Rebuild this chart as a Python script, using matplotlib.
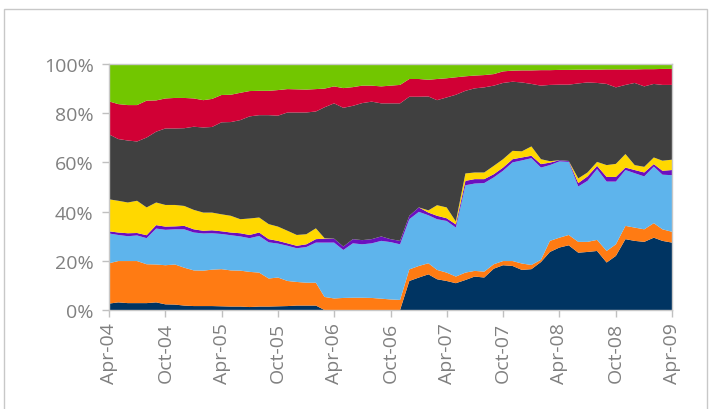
import numpy as np
import pandas as pd
import matplotlib
matplotlib.use('Agg')
import matplotlib.pyplot as plt
import matplotlib.dates as mdates
from matplotlib.patches import Rectangle

# monthly shares (%), Apr-04 .. Apr-09, bottom layer first
months = pd.date_range('2004-04-01', periods=61, freq='MS')

navy = [2.6, 3.1, 2.8, 2.8, 2.8, 3.1, 2.3, 2.2, 1.8, 1.6, 1.6, 1.6, 1.5, 1.4, 1.4, 1.2,
        1.4, 1.4, 1.5, 1.6, 1.8, 1.8, 1.8, 0, 0, 0, 0, 0, 0, 0, 0, 0,
        11.8, 13.2, 14.5, 12.5, 11.8, 10.9, 12.2, 13.6, 13.2, 16.8, 18.2, 17.9, 16.3, 16.6,
        19.5, 23.6, 25.4, 26.3, 23.3, 23.6, 24.0, 19.3, 22.0, 28.8, 28.1, 27.7, 29.4, 28.1, 27.4]
orange = [16.4, 16.8, 17.1, 17.1, 15.8, 15.4, 15.9, 16.3, 15.4, 14.5, 14.4, 14.8, 15.1, 14.7, 14.6, 14.3,
          13.8, 11.4, 11.7, 10.2, 9.6, 9.3, 9.3, 5.3, 4.7, 4.9, 5.0, 5.0, 4.9, 4.6, 4.3, 4.1,
          4.7, 4.7, 4.5, 3.8, 3.4, 2.7, 3.0, 2.3, 2.4, 1.8, 1.7, 2.0, 2.6, 1.7,
          0.9, 4.5, 4.0, 4.2, 4.4, 4.1, 4.5, 4.7, 4.7, 5.4, 5.4, 5.1, 5.9, 4.7, 4.4]
light_blue = [12.1, 10.6, 10.1, 10.4, 10.6, 14.6, 14.4, 14.3, 15.6, 15.4, 15.1, 14.8, 14.3, 14.3, 13.9, 13.7,
              14.9, 14.7, 13.8, 14.3, 13.7, 14.5, 16.3, 22.1, 22.7, 19.5, 22.1, 21.7, 22.2, 23.5, 23.3, 22.6,
              20.4, 22.0, 19.5, 20.6, 21.0, 19.9, 35.5, 35.5, 36.0, 35.3, 36.7, 40.1, 41.9, 43.4,
              37.5, 30.8, 31.0, 29.7, 22.5, 24.8, 28.8, 28.2, 25.5, 22.7, 22.1, 21.5, 23.0, 22.2, 23.0]
purple = [0.9, 1.0, 1.2, 1.0, 1.2, 1.4, 1.3, 1.2, 1.4, 1.3, 1.1, 1.2, 1.1, 1.1, 1.3, 1.3,
          1.4, 1.3, 1.1, 1.0, 1.0, 1.1, 1.4, 1.6, 1.6, 1.4, 1.7, 1.7, 1.7, 1.8, 1.2, 1.4,
          1.4, 1.8, 1.1, 1.4, 1.1, 1.3, 1.8, 1.8, 1.6, 1.3, 1.3, 1.3, 1.2, 1.0,
          1.4, 1.0, 0.5, 0.4, 1.4, 1.8, 1.3, 1.9, 1.9, 1.0, 1.3, 1.6, 1.0, 1.6, 2.1]
yellow = [13.0, 12.9, 12.5, 13.1, 11.3, 9.2, 8.8, 8.7, 8.1, 7.9, 7.4, 7.2, 6.9, 6.8, 5.7, 6.7,
          6.1, 6.1, 5.8, 5.1, 4.4, 4.1, 4.4, 0.2, 0, 0, 0, 0, 0, 0, 0, 0,
          0, 0, 0.9, 4.3, 4.4, 1.2, 3.0, 2.7, 2.7, 3.4, 3.4, 3.4, 2.5, 3.8,
          2.0, 0.6, 0, 0, 1.9, 1.6, 1.6, 4.8, 5.3, 5.5, 2.0, 2.3, 2.7, 4.1, 4.2]
dark_gray = [26.4, 25.1, 25.2, 24.1, 28.4, 28.8, 31.1, 31.1, 31.6, 33.8, 34.6, 34.8, 37.4, 38.1, 40.3, 41.5,
             41.6, 44.3, 45.1, 48.1, 49.8, 49.5, 47.5, 53.2, 55.0, 56.4, 54.2, 55.7, 55.9, 54.1, 55.2, 55.9,
             48.4, 45.0, 46.3, 42.7, 44.7, 51.5, 33.6, 34.2, 34.6, 32.6, 31.0, 28.1, 28.0, 25.4,
             29.9, 31.0, 30.7, 31.0, 38.6, 36.6, 32.1, 33.0, 31.1, 28.1, 33.4, 32.7, 29.9, 30.8, 30.4]
red = [13.4, 14.2, 14.4, 14.8, 15.0, 12.7, 12.2, 12.4, 12.3, 11.5, 11.1, 11.4, 11.1, 11.1, 11.1, 10.3,
       9.9, 9.9, 10.4, 9.5, 9.4, 9.3, 9.1, 7.6, 6.9, 8.0, 7.6, 7.1, 6.5, 6.9, 7.2, 7.5,
       7.2, 7.2, 6.8, 8.6, 7.8, 7.1, 5.9, 5.2, 5.0, 4.7, 4.7, 4.5, 4.9, 5.5,
       6.3, 6.0, 6.0, 6.0, 5.6, 5.2, 5.4, 5.9, 7.3, 6.3, 5.5, 7.0, 6.0, 6.5, 6.5]
green = [15.2, 16.3, 16.7, 16.7, 14.9, 14.8, 14.0, 13.8, 13.8, 14.0, 14.7, 14.2, 12.6, 12.5, 11.7, 11.0,
         10.9, 10.9, 10.6, 10.2, 10.3, 10.4, 10.2, 10.0, 9.1, 9.8, 9.4, 8.8, 8.8, 9.1, 8.8, 8.5,
         6.1, 6.1, 6.4, 6.1, 5.8, 5.4, 5.0, 4.7, 4.5, 4.1, 3.0, 2.7, 2.6, 2.6,
         2.5, 2.5, 2.4, 2.4, 2.3, 2.3, 2.3, 2.2, 2.2, 2.2, 2.2, 2.1, 2.1, 2.0, 2.0]

colors = ['#003462', '#FF7B13', '#5EB4EC', '#6B0FBF', '#FFD800', '#404040', '#D10035', '#72C600']

layers = np.array([navy, orange, light_blue, purple, yellow, dark_gray, red, green], dtype=float)
layers = layers / layers.sum(axis=0)  # 100% stacked

fig = plt.figure(figsize=(7.12, 4.10), dpi=100)
# light frame round the chart area
fig.patches.append(Rectangle((4/712, -0.01), 703/712, 400/410 + 0.01, transform=fig.transFigure,
                             fill=False, edgecolor='#C8C8C8', linewidth=1))

ax = fig.add_axes([109/712, 1 - 311/410, 563/712, 246/410])
ax.stackplot(months, layers, colors=colors, linewidth=0)

ax.set_xlim(months[0], months[-1])
ax.set_ylim(0, 1)
ax.set_yticks(np.arange(0, 1.01, 0.2))
ax.set_yticklabels(['0%', '20%', '40%', '60%', '80%', '100%'])
ax.xaxis.set_major_locator(mdates.MonthLocator(bymonth=[4, 10]))
ax.xaxis.set_major_formatter(mdates.DateFormatter('%b-%y'))

for s in ax.spines.values():
    s.set_color('#C8C8C8')
    s.set_linewidth(1)
ax.tick_params(axis='both', colors='#C0C0C0', length=5, width=1)
ax.tick_params(axis='both', labelcolor='#808080', labelsize=14)
ax.tick_params(axis='y', pad=6)
for lab in ax.get_xticklabels():
    lab.set_rotation(90)
for lab in ax.get_xticklabels() + ax.get_yticklabels():
    lab.set_family('Open Sans')

fig.savefig('out.png', dpi=100)
